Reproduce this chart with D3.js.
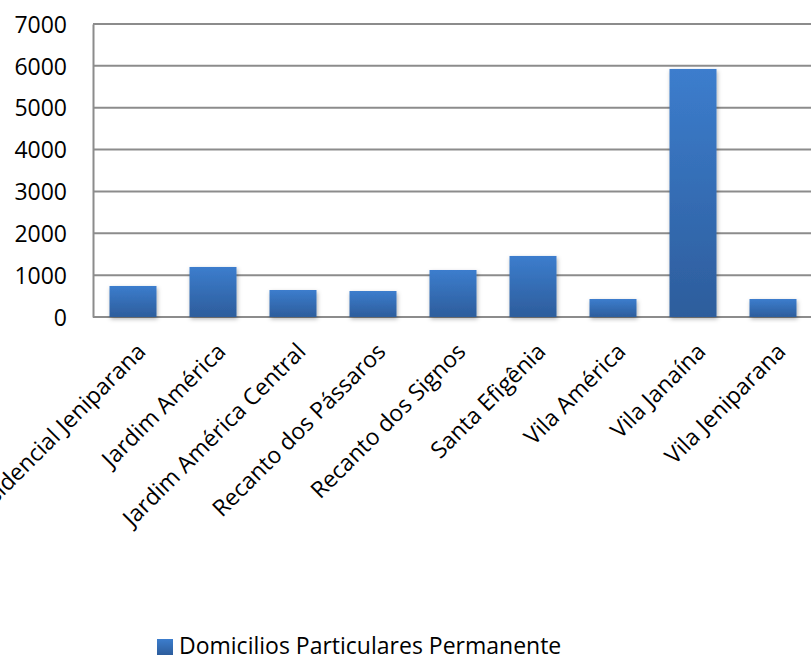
<!DOCTYPE html>
<html>
<head>
<meta charset="utf-8">
<script src="https://cdn.jsdelivr.net/npm/d3@7"></script>
<style>
  html, body { margin: 0; padding: 0; background: #fff; }
  svg { display: block; font-family: "Open Sans", sans-serif; }
</style>
</head>
<body>
<svg id="chart" width="811" height="660"></svg>
<script>
const categories = ["Residencial Jeniparana", "Jardim América", "Jardim América Central", "Recanto dos Pássaros", "Recanto dos Signos", "Santa Efigênia", "Vila América", "Vila Janaína", "Vila Jeniparana"];
const values = [741, 1195, 645, 621, 1123, 1458, 430, 5926, 430];
const yTicks = [0, 1000, 2000, 3000, 4000, 5000, 6000, 7000];
const seriesName = "Domicilios Particulares Permanente";

const svg = d3.select("#chart");
const plotLeft = 93, plotRight = 813, plotTop = 24, plotBottom = 317;

const defs = svg.append("defs");
const grad = defs.append("linearGradient").attr("id", "barGrad")
  .attr("x1", 0).attr("y1", 0).attr("x2", 0).attr("y2", 1);
grad.append("stop").attr("offset", "0%").attr("stop-color", "#3C7DCD");
grad.append("stop").attr("offset", "100%").attr("stop-color", "#2D5D9C");
const f = defs.append("filter").attr("id", "shadow").attr("x", "-20%").attr("y", "-20%").attr("width", "150%").attr("height", "150%");
f.append("feDropShadow").attr("dx", 1).attr("dy", 2).attr("stdDeviation", 2).attr("flood-color", "#000").attr("flood-opacity", 0.3);

const x = d3.scaleBand().domain(categories).range([plotLeft, plotRight]).paddingInner(0.4125).paddingOuter(0.20625);
const y = d3.scaleLinear().domain([0, 7000]).range([plotBottom, plotTop]);

// gridlines
svg.append("g").selectAll("line").data(yTicks).join("line")
  .attr("x1", plotLeft).attr("x2", 811)
  .attr("y1", d => y(d)).attr("y2", d => y(d))
  .attr("stroke", "#8c8c8c").attr("stroke-width", 2);

// y axis
const yAxis = d3.axisLeft(y).tickValues(yTicks).tickSize(0).tickPadding(26).tickFormat(d3.format("d"));
const gy = svg.append("g").attr("transform", `translate(${plotLeft},0)`).call(yAxis);
gy.select(".domain").attr("stroke", "#8c8c8c").attr("stroke-width", 2);
gy.selectAll("text").attr("font-size", 23).attr("font-family", "Open Sans").attr("fill", "#000").attr("dy", "0.36em");

// bars
svg.append("g").selectAll("rect").data(values).join("rect")
  .attr("x", (d, i) => x(categories[i]))
  .attr("width", x.bandwidth())
  .attr("y", d => y(d))
  .attr("height", d => y(0) - y(d))
  .attr("fill", "url(#barGrad)")
  .attr("filter", "url(#shadow)");

// x labels
svg.append("g").selectAll("text").data(categories).join("text")
  .attr("transform", d => `translate(${x(d) + x.bandwidth() / 2 + 14},353) rotate(-45)`)
  .attr("text-anchor", "end")
  .attr("font-size", 23)
  .attr("fill", "#000")
  .text(d => d);

// legend
const lg = svg.append("g");
lg.append("rect").attr("x", 157).attr("y", 639).attr("width", 16).attr("height", 16).attr("fill", "url(#barGrad)");
lg.append("text").attr("x", 179).attr("y", 654).attr("font-size", 23).attr("fill", "#000").text(seriesName);
</script>
</body>
</html>
